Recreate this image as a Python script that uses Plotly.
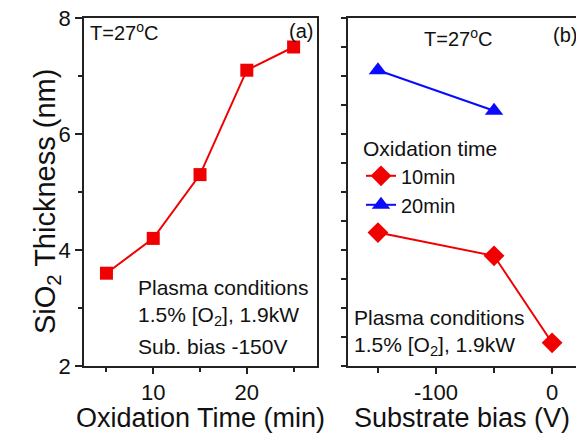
import plotly.graph_objects as go

W, H = 576, 433

# ---- data ----
time_min = [5, 10, 15, 20, 25]
thick_a = [3.6, 4.2, 5.3, 7.1, 7.5]

bias_10 = [-150, -50, 0]
thick_10 = [4.3, 3.9, 2.4]
bias_20 = [-150, -50]
thick_20 = [7.1, 6.4]

xticks_a = [10, 20]
xticks_b = [-100, 0]
xticklabels_b = ["-100", "0"]
yticks = [2, 4, 6, 8]

RED = "#f00000"
BLUE = "#0a0aff"
FONT = "Liberation Sans, Arial, sans-serif"

def px(x):
    return x / W

def py(y):
    return 1 - y / H

fig = go.Figure()

fig.add_trace(go.Scatter(
    x=time_min, y=thick_a, mode="lines+markers", xaxis="x", yaxis="y",
    line=dict(color=RED, width=2),
    marker=dict(symbol="square", size=13, color=RED),
    showlegend=False))

fig.add_trace(go.Scatter(
    x=bias_10, y=thick_10, mode="lines+markers", xaxis="x2", yaxis="y2",
    line=dict(color=RED, width=2),
    marker=dict(symbol="diamond", size=16, color=RED),
    name="10min"))

fig.add_trace(go.Scatter(
    x=bias_20, y=thick_20, mode="lines+markers", xaxis="x2", yaxis="y2",
    line=dict(color=BLUE, width=2),
    marker=dict(symbol="triangle-up", size=16, color=BLUE),
    name="20min"))

axis_common = dict(showgrid=False, zeroline=False, showline=True,
                   linecolor="#222", linewidth=1.5, ticks="outside",
                   tickcolor="#222", tickwidth=1.5, automargin=False,
                   tickfont=dict(family=FONT, size=22, color="#111"))

ydom = [py(366), py(18)]

fig.update_layout(
    width=W, height=H,
    margin=dict(l=0, r=0, t=0, b=0),
    paper_bgcolor="white", plot_bgcolor="white",
    font=dict(family=FONT, color="#111"),
    xaxis=dict(domain=[px(84), px(317)], range=[2.6, 27.5], anchor="y",
               tickvals=xticks_a, ticklen=6, mirror=True,
               minor=dict(tickvals=[5, 15, 25], ticklen=4, ticks="outside",
                          tickcolor="#222", tickwidth=1.5, showgrid=False),
               title=dict(text="Oxidation Time (min)", standoff=2,
                          font=dict(family=FONT, size=27)),
               **axis_common),
    yaxis=dict(domain=ydom, range=[2, 8], anchor="x",
               tickvals=yticks, ticklen=7, mirror=True,
               minor=dict(tickvals=[3, 5, 7], ticklen=4, ticks="outside",
                          tickcolor="#222", tickwidth=1.5, showgrid=False),
               **axis_common),
    xaxis2=dict(domain=[px(348), 1.0], range=[-175.8, 20.6], anchor="y2",
                tickvals=xticks_b, ticktext=xticklabels_b, ticklen=6, mirror=True,
                minor=dict(tickvals=[-150, -50], ticklen=5, ticks="outside",
                           tickcolor="#222", tickwidth=1.5, showgrid=False),
                title=dict(text="Substrate bias (V)", standoff=2,
                           font=dict(family=FONT, size=27)),
                **axis_common),
    yaxis2=dict(domain=ydom, range=[2, 8], anchor="x2",
                dtick=0.5, tick0=2, ticklen=5, showticklabels=False,
                mirror=False,
                **axis_common),
    legend=dict(x=px(361), y=py(129), xanchor="left", yanchor="top",
                bgcolor="rgba(0,0,0,0)",
                title=dict(text="Oxidation time", font=dict(family=FONT, size=21)),
                font=dict(family=FONT, size=20),
                itemwidth=30, tracegroupgap=0),
)

ann_font = dict(family=FONT, size=21, color="#111")
small_font = dict(family=FONT, size=20, color="#111")

annotations = [
    # y title
    dict(x=px(27), y=py(202), text="SiO<sub>2</sub> Thickness (nm)", textangle=-90,
         font=dict(family=FONT, size=29, color="#111")),
    # panel a
    dict(x=px(88), y=py(32), text="T=27<sup>o</sup>C", xanchor="left", font=small_font),
    dict(x=px(315), y=py(31), text="(a)", xanchor="right", font=small_font),
    dict(x=px(136), y=py(287), text="Plasma conditions", xanchor="left", font=ann_font),
    dict(x=px(136), y=py(316), text="1.5% [O<sub>2</sub>], 1.9kW", xanchor="left", font=ann_font),
    dict(x=px(136), y=py(346), text="Sub. bias -150V", xanchor="left", font=ann_font),
    # panel b
    dict(x=px(458), y=py(37), text="T=27<sup>o</sup>C", xanchor="center", font=small_font),
    dict(x=px(551), y=py(35), text="(b)", xanchor="left", font=small_font),
    dict(x=px(352), y=py(317), text="Plasma conditions", xanchor="left", font=ann_font),
    dict(x=px(352), y=py(346), text="1.5% [O<sub>2</sub>], 1.9kW", xanchor="left", font=ann_font),
]
for a in annotations:
    a.setdefault("xref", "paper")
    a.setdefault("yref", "paper")
    a["showarrow"] = False
    a.setdefault("yanchor", "middle")
fig.update_layout(annotations=annotations)

fig.write_html("out.html")
